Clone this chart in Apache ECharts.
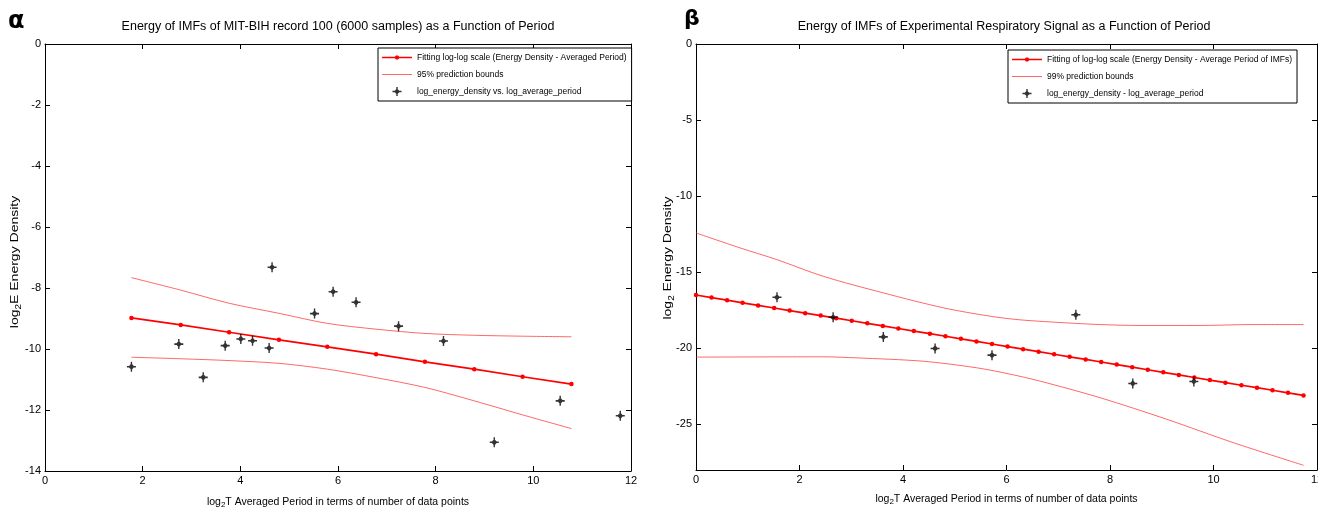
<!DOCTYPE html>
<html>
<head>
<meta charset="utf-8">
<script src="https://cdn.jsdelivr.net/npm/echarts@6/dist/echarts.min.js"></script>
<style>
  html, body { margin: 0; padding: 0; background: #fff; }
  #chart { width: 1318px; height: 507px; }
</style>
</head>
<body>
<div id="chart"></div>
<script>
// ---- Panel α : MIT-BIH record 100 ----
const ecgFitX = [1.77, 2.78, 3.77, 4.79, 5.78, 6.78, 7.78, 8.79, 9.78, 10.78];
const ecgFitY = [-8.98, -9.21, -9.45, -9.70, -9.93, -10.17, -10.42, -10.66, -10.91, -11.15];
const ecgUpperY = [-7.66, -8.07, -8.50, -8.83, -9.16, -9.35, -9.49, -9.55, -9.58, -9.60];
const ecgLowerY = [-10.27, -10.32, -10.38, -10.47, -10.66, -10.94, -11.26, -11.70, -12.16, -12.61];
const ecgPointX = [1.77, 2.74, 3.24, 3.69, 4.01, 4.25, 4.59, 4.65, 5.52, 5.90, 6.37, 7.24, 8.16, 9.20, 10.55, 11.78];
const ecgPointY = [-10.58, -9.84, -10.93, -9.89, -9.67, -9.73, -9.97, -7.32, -8.84, -8.12, -8.47, -9.25, -9.74, -13.06, -11.70, -12.19];

// ---- Panel β : respiratory signal ----
const respFitX = [0.00, 0.30, 0.60, 0.90, 1.20, 1.51, 1.81, 2.11, 2.41, 2.71,
                  3.01, 3.31, 3.61, 3.91, 4.21, 4.52, 4.82, 5.12, 5.42, 5.72,
                  6.02, 6.32, 6.62, 6.92, 7.22, 7.53, 7.83, 8.13, 8.43, 8.73,
                  9.03, 9.33, 9.63, 9.93, 10.23, 10.54, 10.84, 11.14, 11.44, 11.74];
const respFitY = [-16.50, -16.67, -16.84, -17.01, -17.18, -17.35, -17.52, -17.69, -17.85, -18.02,
                  -18.19, -18.36, -18.53, -18.70, -18.87, -19.04, -19.21, -19.38, -19.55, -19.72,
                  -19.89, -20.06, -20.22, -20.39, -20.56, -20.73, -20.90, -21.07, -21.24, -21.41,
                  -21.58, -21.75, -21.92, -22.09, -22.26, -22.43, -22.59, -22.76, -22.93, -23.10];
const respUpperX = [0, 0.85, 1.56, 2.46, 3.62, 4.78, 5.68, 6.26, 7.16, 7.81, 8.58, 9.74, 10.76, 11.74];
const respUpperY = [-12.42, -13.40, -14.17, -15.27, -16.36, -17.34, -17.89, -18.13, -18.33, -18.44, -18.50, -18.50, -18.44, -18.44];
const respLowerX = [0, 2.46, 3.10, 4.39, 5.42, 6.07, 6.65, 7.81, 9.10, 10.38, 11.74];
const respLowerY = [-20.58, -20.56, -20.63, -20.85, -21.28, -21.70, -22.16, -23.25, -24.67, -26.20, -27.69];
const respPointX = [1.565, 2.65, 3.62, 4.62, 5.72, 7.34, 8.44, 9.62];
const respPointY = [-16.65, -17.96, -19.25, -20.01, -20.45, -17.80, -22.31, -22.18];

// ---- Tick labels ----
const xTicks = [0, 2, 4, 6, 8, 10, 12];
const ecgYTicks = [0, -2, -4, -6, -8, -10, -12, -14];
const respYTicks = [0, -5, -10, -15, -20, -25];

// ---- Text ----
const titles = [
  'Energy of IMFs of MIT-BIH record 100 (6000 samples) as a Function of Period',
  'Energy of IMFs of Experimental Respiratory Signal as a Function of Period'
];
const xNames = [
  '{a|log}{s|2}{a|T Averaged Period in terms of number of data points}',
  '{a|log}{s|2}{a|T Averaged Period in terms of number of data points}'
];
const yNames = [
  '{a|log}{s|2}{a|E Energy Density}',
  '{a|log}{s|2}{a| Energy Density}'
];
const legendNames = {
  ecgFit: 'Fitting log-log scale (Energy Density - Averaged Period)',
  ecgBounds: '95% prediction bounds',
  ecgPoints: 'log_energy_density vs. log_average_period',
  respFit: 'Fitting of log-log scale (Energy Density - Average Period of IMFs)',
  respBounds: '99% prediction bounds',
  respPoints: 'log_energy_density - log_average_period'
};

const pair = (xs, ys) => xs.map((x, i) => [x, ys[i]]);

const FONT = '"Liberation Sans", Arial, sans-serif';
// asterisk-like marker: bold plus with a small diamond hub
const starPath = 'path://M3.8,0L5.2,0L5.2,9L3.8,9Z M0,3.8L9,3.8L9,5.2L0,5.2Z M4.5,1.5L7.5,4.5L4.5,7.5L1.5,4.5Z';
const fitIcon = 'path://M0,1.3L30,1.3L30,2.7L0,2.7Z M14,0L16,0L17,1L17,3L16,4L14,4L13,3L13,1Z';
const boundIcon = 'path://M0,0L30,0L30,1L0,1Z';

const subRich = (size) => ({
  a: { fontFamily: FONT, fontSize: size, color: '#000' },
  s: { fontFamily: FONT, fontSize: Math.round(size * 0.72), color: '#000', padding: [Math.round(size * 0.6), 0, 0, 0] }
});

const tickStyle = { show: true, inside: true, length: 5, lineStyle: { color: '#000' } };
const lineBlack = { show: true, onZero: false, lineStyle: { color: '#000', width: 1 } };

function xAxisPair(gridIndex, nameText, nameGap) {
  return [
    {
      type: 'value', gridIndex, min: 0, max: 12, interval: 2, position: 'bottom',
      name: nameText, nameLocation: 'middle', nameGap,
      nameTextStyle: { rich: subRich(10.5) },
      axisLine: lineBlack, axisTick: tickStyle,
      axisLabel: { color: '#000', fontFamily: FONT, fontSize: 11, margin: 4 },
      splitLine: { show: false }
    },
    {
      type: 'value', gridIndex, min: 0, max: 12, interval: 2, position: 'top',
      axisLine: lineBlack, axisTick: tickStyle,
      axisLabel: { show: false }, splitLine: { show: false }
    }
  ];
}

// α panel: regular 2-unit ticks; β panel: ticks every 5 down to -25 on a -28..0 range
const yAxes = [
  {
    type: 'value', gridIndex: 0, min: -14, max: 0, interval: 2, position: 'left',
    axisLine: lineBlack, axisTick: tickStyle, splitLine: { show: false },
    axisLabel: { color: '#000', fontFamily: FONT, fontSize: 11, margin: 4 }
  },
  {
    type: 'value', gridIndex: 0, min: -14, max: 0, interval: 2, position: 'right',
    axisLine: lineBlack, axisTick: tickStyle, splitLine: { show: false },
    axisLabel: { show: false }
  },
  {
    type: 'value', gridIndex: 1, min: -28, max: 0, position: 'left',
    axisLine: lineBlack, splitLine: { show: false },
    axisTick: Object.assign({ customValues: respYTicks }, tickStyle),
    axisLabel: { color: '#000', fontFamily: FONT, fontSize: 11, margin: 4, customValues: respYTicks }
  },
  {
    type: 'value', gridIndex: 1, min: -28, max: 0, position: 'right',
    axisLine: lineBlack, splitLine: { show: false },
    axisTick: Object.assign({ customValues: respYTicks }, tickStyle),
    axisLabel: { show: false }
  }
];

const fitStyle = { color: '#ff0000', width: 1.7 };
const boundColor = 'rgba(255,40,40,0.7)';
const boundStyle = { color: boundColor, width: 1 };

function legendBox(left, top, names) {
  return {
    left, top, orient: 'vertical',
    data: [
      { name: names[0], icon: fitIcon },
      { name: names[1], icon: boundIcon },
      { name: names[2], icon: starPath }
    ],
    borderColor: '#000', borderWidth: 1, backgroundColor: '#fff',
    padding: [5, 5, 5, 4], itemGap: 8, itemWidth: 30, itemHeight: 9,
    textStyle: { fontFamily: FONT, fontSize: 8.5, color: '#000' }
  };
}

const option = {
  animation: false,
  backgroundColor: '#fff',
  textStyle: { fontFamily: FONT },
  grid: [
    { left: 45, top: 44, width: 586, height: 427, outerBoundsMode: 'none', containLabel: false },
    { left: 696, top: 44, width: 621, height: 426, outerBoundsMode: 'none', containLabel: false }
  ],
  xAxis: [
    ...xAxisPair(0, xNames[0], 24),
    ...xAxisPair(1, xNames[1], 22)
  ],
  yAxis: yAxes,
  legend: [
    legendBox(378, 48, [legendNames.ecgFit, legendNames.ecgBounds, legendNames.ecgPoints]),
    legendBox(1008, 50, [legendNames.respFit, legendNames.respBounds, legendNames.respPoints])
  ],
  series: [
    // α panel
    { name: legendNames.ecgFit, type: 'line', xAxisIndex: 0, yAxisIndex: 0,
      data: pair(ecgFitX, ecgFitY), lineStyle: fitStyle, itemStyle: { color: '#ff0000' },
      symbol: 'circle', symbolSize: 4.5, z: 3 },
    { name: legendNames.ecgBounds, type: 'line', xAxisIndex: 0, yAxisIndex: 0,
      data: pair(ecgFitX, ecgUpperY), lineStyle: boundStyle, itemStyle: { color: boundColor },
      symbol: 'none', smooth: 0.3, z: 2 },
    { name: legendNames.ecgBounds, type: 'line', xAxisIndex: 0, yAxisIndex: 0,
      data: pair(ecgFitX, ecgLowerY), lineStyle: boundStyle, itemStyle: { color: boundColor },
      symbol: 'none', smooth: 0.3, z: 2 },
    { name: legendNames.ecgPoints, type: 'scatter', xAxisIndex: 0, yAxisIndex: 0,
      data: pair(ecgPointX, ecgPointY), symbol: starPath, symbolSize: [9, 10],
      itemStyle: { color: '#000' }, z: 4 },
    // β panel
    { name: legendNames.respFit, type: 'line', xAxisIndex: 2, yAxisIndex: 2,
      data: pair(respFitX, respFitY), lineStyle: fitStyle, itemStyle: { color: '#ff0000' },
      symbol: 'circle', symbolSize: 4.5, z: 3 },
    { name: legendNames.respBounds, type: 'line', xAxisIndex: 2, yAxisIndex: 2,
      data: pair(respUpperX, respUpperY), lineStyle: boundStyle, itemStyle: { color: boundColor },
      symbol: 'none', smooth: 0.3, z: 2 },
    { name: legendNames.respBounds, type: 'line', xAxisIndex: 2, yAxisIndex: 2,
      data: pair(respLowerX, respLowerY), lineStyle: boundStyle, itemStyle: { color: boundColor },
      symbol: 'none', smooth: 0.3, z: 2 },
    { name: legendNames.respPoints, type: 'scatter', xAxisIndex: 2, yAxisIndex: 2,
      data: pair(respPointX, respPointY), symbol: starPath, symbolSize: [9, 10],
      itemStyle: { color: '#000' }, z: 4 }
  ],
  graphic: [
    { type: 'text', left: 8, top: 10, style: { text: 'α', font: 'bold 24px "DejaVu Sans", sans-serif', fill: '#000' } },
    { type: 'text', left: 684, top: 8, style: { text: 'β', font: 'bold 22px "DejaVu Sans", sans-serif', fill: '#000' } },
    { type: 'text', style: { x: 338, y: 27, text: titles[0], textAlign: 'center', textVerticalAlign: 'middle',
      font: '12.5px ' + FONT, fill: '#000' } },
    { type: 'text', style: { x: 1004, y: 27, text: titles[1], textAlign: 'center', textVerticalAlign: 'middle',
      font: '12.5px ' + FONT, fill: '#000' } },
    // rotated y-axis titles
    { type: 'text', x: 15, y: 262, rotation: Math.PI / 2, scaleY: 0.82,
      style: { text: yNames[0], rich: subRich(14), align: 'center', verticalAlign: 'middle' } },
    { type: 'text', x: 668, y: 258, rotation: Math.PI / 2, scaleY: 0.82,
      style: { text: yNames[1], rich: subRich(14), align: 'center', verticalAlign: 'middle' } }
  ]
};

const chart = echarts.init(document.getElementById('chart'), null, { renderer: 'canvas' });
chart.setOption(option);
</script>
</body>
</html>
